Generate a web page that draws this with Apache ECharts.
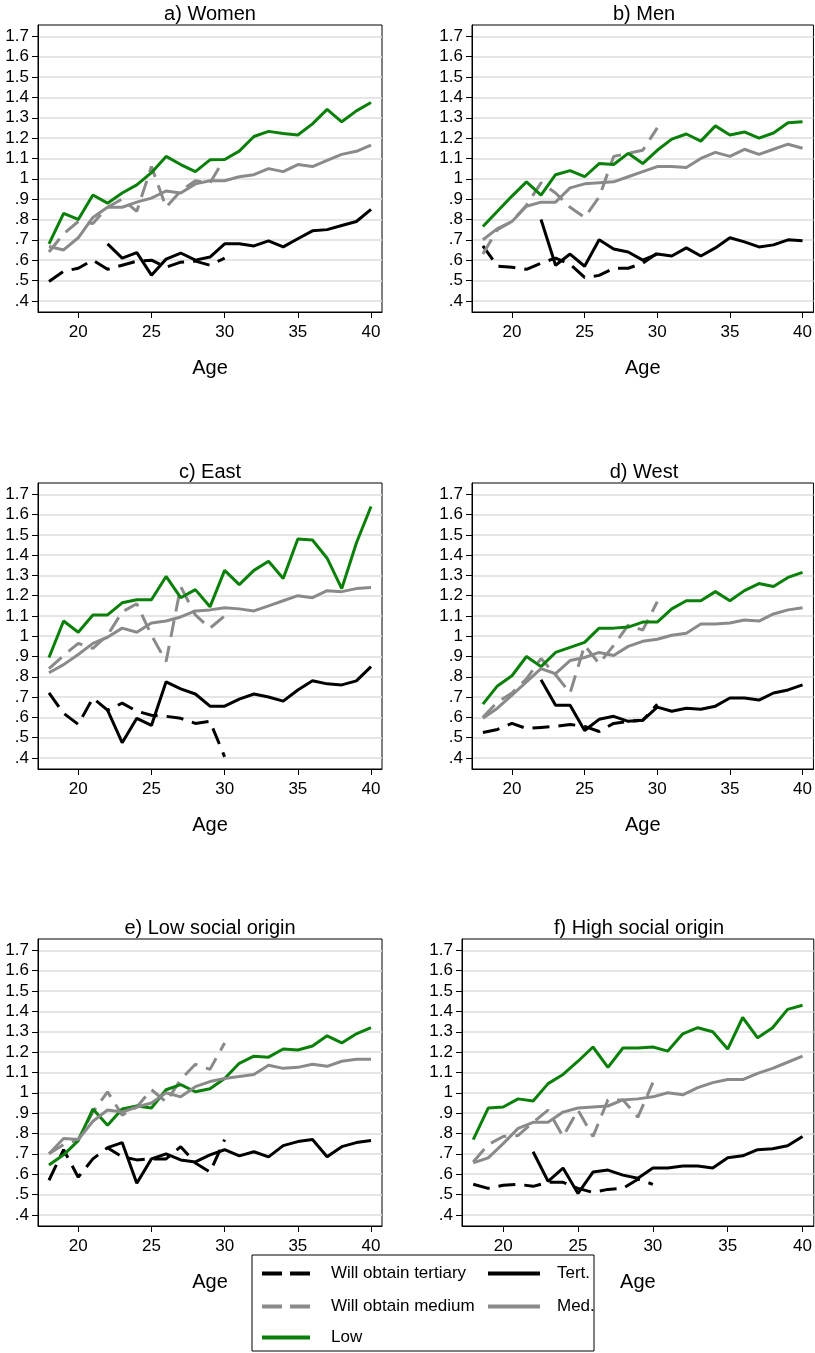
<!DOCTYPE html>
<html>
<head>
<meta charset="utf-8">
<script src="https://cdn.jsdelivr.net/npm/echarts@6/dist/echarts.min.js"></script>
<style>
  html, body { margin: 0; padding: 0; background: #fff; }
  #chart { width: 815px; height: 1353px; }
</style>
</head>
<body>
<div id="chart"></div>
<script>
// ages on the x axis
var ages = [18, 19, 20, 21, 22, 23, 24, 25, 26, 27, 28, 29, 30, 31, 32, 33, 34, 35, 36, 37, 38, 39, 40];
var agesYoung = [18, 19, 20, 21, 22, 23, 24, 25, 26, 27, 28, 29, 30];
var agesTert = [22, 23, 24, 25, 26, 27, 28, 29, 30, 31, 32, 33, 34, 35, 36, 37, 38, 39, 40];

var panelTitles = ['a) Women', 'b) Men', 'c) East', 'd) West', 'e) Low social origin', 'f) High social origin'];
var yTicks = [0.4, 0.5, 0.6, 0.7, 0.8, 0.9, 1, 1.1, 1.2, 1.3, 1.4, 1.5, 1.6, 1.7];
var xTicks = [20, 25, 30, 35, 40];

// a) Women
var womenWillTert = [0.495, 0.545, 0.56, 0.60, 0.555, 0.575, 0.595, 0.60, 0.565, 0.59, 0.595, 0.575, 0.61];
var womenWillMed = [0.64, 0.73, 0.79, 0.78, 0.86, 0.90, 0.84, 1.06, 0.86, 0.94, 0.99, 0.98, 1.10];
var womenLow = [0.68, 0.83, 0.80, 0.92, 0.88, 0.93, 0.97, 1.03, 1.11, 1.07, 1.035, 1.093, 1.095, 1.136, 1.208, 1.233, 1.223, 1.215, 1.27, 1.341, 1.28, 1.334, 1.375];
var womenTert = [0.68, 0.61, 0.637, 0.526, 0.605, 0.635, 0.60, 0.615, 0.68, 0.68, 0.67, 0.695, 0.665, 0.705, 0.744, 0.75, 0.77, 0.79, 0.85];
var womenMed = [0.667, 0.65, 0.71, 0.81, 0.86, 0.86, 0.885, 0.905, 0.94, 0.93, 0.975, 0.99, 0.99, 1.01, 1.02, 1.05, 1.035, 1.07, 1.06, 1.09, 1.12, 1.135, 1.165];

// b) Men
var menWillTert = [0.67, 0.57, 0.565, 0.555, 0.585, 0.61, 0.58, 0.515, 0.525, 0.56, 0.56, 0.585, 0.635];
var menWillMed = [0.63, 0.75, 0.79, 0.87, 0.98, 0.93, 0.86, 0.81, 0.91, 1.11, 1.125, 1.14, 1.25];
var menLow = [0.765, 0.84, 0.915, 0.985, 0.92, 1.02, 1.04, 1.01, 1.075, 1.07, 1.125, 1.075, 1.14, 1.195, 1.22, 1.185, 1.26, 1.215, 1.23, 1.20, 1.225, 1.275, 1.28];
var menTert = [0.80, 0.575, 0.63, 0.57, 0.70, 0.655, 0.64, 0.60, 0.63, 0.62, 0.66, 0.62, 0.66, 0.71, 0.69, 0.665, 0.675, 0.70, 0.695];
var menMed = [0.70, 0.755, 0.79, 0.865, 0.885, 0.885, 0.955, 0.975, 0.98, 0.985, 1.01, 1.035, 1.06, 1.06, 1.055, 1.10, 1.13, 1.11, 1.145, 1.12, 1.145, 1.17, 1.15];

// c) East
var eastWillTert = [0.72, 0.62, 0.565, 0.695, 0.635, 0.67, 0.63, 0.61, 0.605, 0.595, 0.57, 0.58, 0.405];
var eastWillMed = [0.84, 0.905, 0.965, 0.94, 1.005, 1.12, 1.16, 1.005, 0.875, 1.245, 1.105, 1.04, 1.10];
var eastLow = [0.895, 1.075, 1.02, 1.105, 1.105, 1.165, 1.18, 1.18, 1.295, 1.19, 1.23, 1.145, 1.325, 1.255, 1.325, 1.37, 1.285, 1.48, 1.475, 1.385, 1.235, 1.46, 1.64];
var eastTert = [0.635, 0.475, 0.595, 0.56, 0.775, 0.74, 0.715, 0.655, 0.655, 0.69, 0.715, 0.70, 0.68, 0.735, 0.78, 0.765, 0.76, 0.78, 0.85];
var eastMed = [0.82, 0.86, 0.91, 0.965, 0.995, 1.04, 1.02, 1.065, 1.075, 1.095, 1.125, 1.13, 1.14, 1.135, 1.125, 1.15, 1.175, 1.20, 1.19, 1.225, 1.22, 1.235, 1.24];

// d) West
var westWillTert = [0.525, 0.54, 0.57, 0.545, 0.55, 0.555, 0.565, 0.555, 0.53, 0.57, 0.58, 0.585, 0.665];
var westWillMed = [0.60, 0.675, 0.72, 0.79, 0.89, 0.81, 0.72, 0.955, 0.865, 0.955, 1.055, 1.03, 1.17];
var westLow = [0.665, 0.755, 0.805, 0.90, 0.85, 0.92, 0.945, 0.97, 1.04, 1.04, 1.045, 1.07, 1.07, 1.135, 1.175, 1.175, 1.22, 1.175, 1.225, 1.26, 1.245, 1.29, 1.315];
var westTert = [0.785, 0.66, 0.66, 0.535, 0.59, 0.605, 0.58, 0.585, 0.65, 0.63, 0.645, 0.64, 0.655, 0.695, 0.695, 0.685, 0.72, 0.735, 0.76];
var westMed = [0.595, 0.645, 0.71, 0.775, 0.84, 0.815, 0.88, 0.895, 0.92, 0.905, 0.95, 0.975, 0.985, 1.005, 1.015, 1.06, 1.06, 1.065, 1.08, 1.075, 1.11, 1.13, 1.14];

// e) Low social origin
var lowOrigWillTert = [0.57, 0.72, 0.585, 0.675, 0.73, 0.685, 0.67, 0.675, 0.675, 0.735, 0.655, 0.61, 0.77];
var lowOrigWillMed = [0.70, 0.745, 0.77, 0.905, 1.005, 0.89, 0.93, 1.015, 0.955, 1.065, 1.14, 1.115, 1.245];
var lowOrigLow = [0.645, 0.695, 0.765, 0.92, 0.84, 0.92, 0.935, 0.925, 1.015, 1.04, 1.005, 1.02, 1.07, 1.145, 1.18, 1.175, 1.215, 1.21, 1.23, 1.28, 1.245, 1.29, 1.32];
var lowOrigTert = [0.73, 0.755, 0.555, 0.675, 0.70, 0.67, 0.66, 0.695, 0.72, 0.69, 0.71, 0.685, 0.74, 0.76, 0.77, 0.685, 0.735, 0.755, 0.765];
var lowOrigMed = [0.70, 0.775, 0.77, 0.86, 0.915, 0.905, 0.93, 0.95, 1.0, 0.98, 1.03, 1.055, 1.07, 1.08, 1.09, 1.135, 1.12, 1.125, 1.14, 1.13, 1.155, 1.165, 1.165];

// f) High social origin
var highOrigWillTert = [0.55, 0.53, 0.545, 0.55, 0.54, 0.56, 0.56, 0.53, 0.51, 0.525, 0.53, 0.575, 0.55];
var highOrigWillMed = [0.66, 0.745, 0.785, 0.79, 0.855, 0.915, 0.785, 0.915, 0.785, 0.965, 0.965, 0.88, 1.05];
var highOrigLow = [0.77, 0.925, 0.93, 0.97, 0.96, 1.045, 1.09, 1.155, 1.225, 1.125, 1.22, 1.22, 1.225, 1.205, 1.29, 1.32, 1.30, 1.215, 1.37, 1.27, 1.32, 1.41, 1.43];
var highOrigTert = [0.71, 0.565, 0.63, 0.505, 0.61, 0.62, 0.595, 0.58, 0.63, 0.63, 0.64, 0.64, 0.63, 0.68, 0.69, 0.72, 0.725, 0.74, 0.785];
var highOrigMed = [0.655, 0.68, 0.75, 0.825, 0.855, 0.855, 0.905, 0.925, 0.93, 0.935, 0.965, 0.97, 0.98, 1.0, 0.99, 1.025, 1.05, 1.065, 1.065, 1.095, 1.12, 1.15, 1.18];

var panels = [
    [womenWillTert, womenWillMed, womenLow, womenTert, womenMed],
    [menWillTert, menWillMed, menLow, menTert, menMed],
    [eastWillTert, eastWillMed, eastLow, eastTert, eastMed],
    [westWillTert, westWillMed, westLow, westTert, westMed],
    [lowOrigWillTert, lowOrigWillMed, lowOrigLow, lowOrigTert, lowOrigMed],
    [highOrigWillTert, highOrigWillMed, highOrigLow, highOrigTert, highOrigMed]
];

var seriesNames = ['Will obtain tertiary', 'Will obtain medium', 'Low', 'Tert.', 'Med.'];
var seriesAges = [agesYoung, agesYoung, ages, agesTert, ages];
var seriesColors = ['#000000', '#8a8a8a', '#0a800a', '#000000', '#8a8a8a'];
var seriesDash = [[17, 9], [17, 9], 'solid', 'solid', 'solid'];

// grid boxes (left, top, width, height)
var boxes = [
    [38, 25, 344, 287],
    [472, 25, 344, 287],
    [38, 483, 344, 286],
    [472, 483, 344, 286],
    [38, 939, 344, 287],
    [462, 939, 354, 287]
];

var font = 'Liberation Sans, Arial, sans-serif';

var myChart = echarts.init(document.getElementById('chart'));

var grids = [], xAxes = [], yAxes = [], titles = [], series = [];

boxes.forEach(function (b, i) {
    grids.push({
        left: b[0], top: b[1], width: b[2], height: b[3],
        show: true, borderColor: '#000', borderWidth: 1, backgroundColor: '#fff'
    });
    titles.push({
        text: panelTitles[i],
        left: b[0] + b[2] / 2,
        top: b[1] - 21,
        padding: 0,
        textAlign: 'center',
        textStyle: { fontFamily: font, fontSize: 20, fontWeight: 'normal', color: '#000' }
    });
    xAxes.push({
        type: 'value', gridIndex: i, min: 17.25, max: 40.75,
        name: 'Age', nameLocation: 'middle', nameGap: 46,
        nameTextStyle: { fontFamily: font, fontSize: 20, color: '#000' },
        axisLine: { show: true, lineStyle: { color: '#000', width: 1 } },
        axisTick: { show: true, length: 6, customValues: xTicks, lineStyle: { color: '#000' } },
        axisLabel: { customValues: xTicks, margin: 12, fontFamily: font, fontSize: 17, color: '#000' },
        splitLine: { show: false }
    });
    yAxes.push({
        type: 'value', gridIndex: i, min: 0.345, max: 1.756, splitNumber: 14,
        axisLine: { show: true, lineStyle: { color: '#000', width: 1 } },
        axisTick: { show: true, length: 6, customValues: yTicks, lineStyle: { color: '#000' } },
        axisLabel: {
            customValues: yTicks, margin: 9, fontFamily: font, fontSize: 17, color: '#000',
            formatter: function (v) {
                return String(Math.round(v * 10) / 10).replace(/^0\./, '.');
            }
        },
        splitLine: { show: true, lineStyle: { color: '#dcdcdc', width: 1.5 } }
    });
    panels[i].forEach(function (vals, k) {
        series.push({
            name: seriesNames[k],
            type: 'line',
            xAxisIndex: i,
            yAxisIndex: i,
            data: vals.map(function (v, j) { return [seriesAges[k][j], v]; }),
            showSymbol: false,
            symbol: 'none',
            silent: true,
            animation: false,
            color: seriesColors[k],
            lineStyle: { color: seriesColors[k], width: 3, type: seriesDash[k] }
        });
    });
});

var legendText = { fontFamily: font, fontSize: 17, color: '#000' };
var hiddenDot = { color: 'rgba(0,0,0,0)', borderWidth: 0 };

var option = {
    backgroundColor: '#fff',
    animation: false,
    title: titles,
    grid: grids,
    xAxis: xAxes,
    yAxis: yAxes,
    legend: [
        {
            data: ['Will obtain tertiary', 'Will obtain medium'],
            orient: 'vertical', left: 260, top: 1265, padding: 0,
            itemWidth: 48, itemHeight: 16, itemGap: 16,
            selectedMode: false, z: 20,
            itemStyle: hiddenDot,
            lineStyle: { width: 4, type: [20, 8] },
            textStyle: Object.assign({ padding: [0, 0, 0, 16] }, legendText)
        },
        {
            data: ['Low'],
            orient: 'vertical', left: 260, top: 1329, padding: 0,
            itemWidth: 48, itemHeight: 16,
            selectedMode: false, z: 20,
            itemStyle: hiddenDot,
            lineStyle: { width: 4 },
            textStyle: Object.assign({ padding: [0, 0, 0, 16] }, legendText)
        },
        {
            data: ['Tert.', 'Med.'],
            orient: 'vertical', left: 486, top: 1265, padding: 0,
            itemWidth: 52, itemHeight: 16, itemGap: 16,
            selectedMode: false, z: 20,
            itemStyle: hiddenDot,
            lineStyle: { width: 4 },
            textStyle: Object.assign({ padding: [0, 0, 0, 12] }, legendText)
        }
    ],
    graphic: [
        {
            type: 'rect', z: 10,
            shape: { x: 252, y: 1255, width: 342, height: 96 },
            style: { fill: '#fff', stroke: '#000', lineWidth: 1 }
        }
    ],
    series: series
};

myChart.setOption(option);
window.addEventListener('resize', function () {
    myChart.resize();
});
</script>
</body>
</html>
